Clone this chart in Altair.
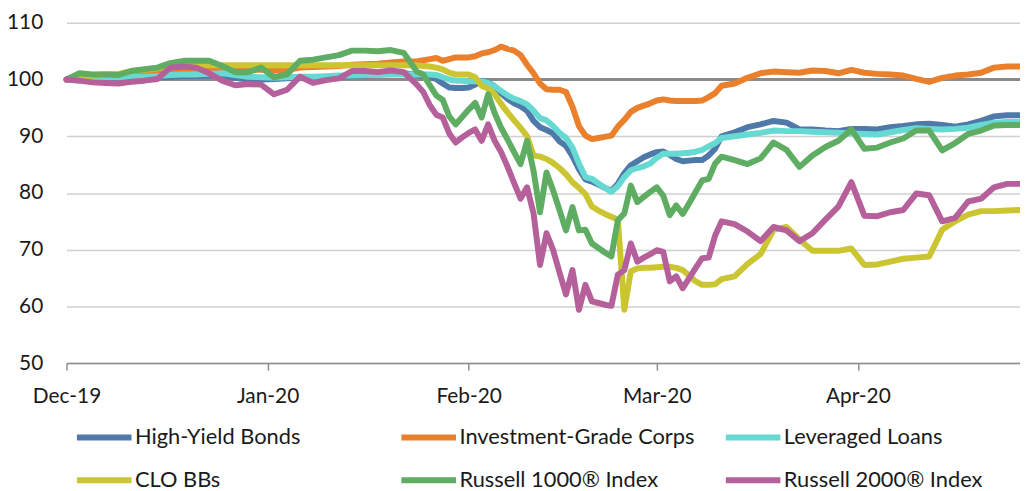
import altair as alt
import pandas as pd

# Day offsets from 1 Dec 2019 (x categories)
day_offsets = [0, 2, 4, 6, 8, 10, 12, 14, 16, 18, 20, 22, 24, 26, 28, 30, 32, 34, 36, 38,
               40, 42, 44, 46, 48, 50, 52, 54,
               55, 56, 57, 58, 59, 60, 61, 62, 63, 64, 65, 66, 67, 68, 69, 70, 71, 72, 73, 74,
               75, 76, 77, 78, 79, 80, 81, 82, 83, 84, 85, 86, 87, 88, 89, 90, 91, 92, 93, 94,
               95, 96, 97, 98, 99, 100,
               101, 103, 105, 107, 109, 111, 113, 115, 117, 119, 121, 123, 125, 127, 129, 131,
               133, 135, 137, 139, 141, 143, 145, 147]

hy = [100, 100.1, 100.2, 100.2, 100.3, 100.3, 100.4, 100.4, 100.5, 100.6, 100.6, 100.7, 100.7, 100.3,
      100.0, 100.0, 100.1, 100.2, 100.3, 100.3, 100.4, 100.5, 100.6, 100.7, 100.9, 101.1, 101.1, 100.8,
      100.6, 100.4, 100.1, 99.3, 98.6, 98.5, 98.5, 98.6, 99.1, 99.8,
      99.5, 98.8, 97.6, 96.6, 95.8, 95.3, 94.5, 92.7, 91.6, 91.1,
      90.5, 89.1, 88.3, 86.5, 84.2, 82.4, 82.0, 81.5, 80.9, 80.4,
      81.6, 83.5, 84.9, 85.6, 86.3, 86.8, 87.2, 87.3, 86.7, 86.0,
      85.6, 85.7, 85.8, 85.8, 86.6, 87.8,
      90.0, 90.7, 91.6, 92.1, 92.7, 92.4, 91.2, 91.2, 91.0, 90.9, 91.3, 91.3,
      91.2, 91.6, 91.8, 92.1, 92.2, 92.0, 91.7, 92.1, 92.7, 93.5, 93.7, 93.7]

ig = [100, 100.6, 100.8, 100.9, 100.9, 101.0, 101.2, 101.3, 101.5, 101.6, 101.7, 101.8, 101.8, 101.7,
      101.7, 101.7, 101.6, 101.7, 102.1, 102.2, 102.3, 102.4, 102.6, 102.7, 102.8, 103.0, 103.2, 103.2,
      103.4, 103.6, 103.8, 103.3, 103.6, 103.9, 103.9, 103.9, 104.1, 104.6,
      104.8, 105.2, 105.8, 105.4, 105.1, 104.3, 102.6, 101.1, 99.3, 98.3,
      98.2, 98.2, 97.8, 95.2, 91.8, 90.1, 89.5, 89.7, 89.9, 90.1,
      91.7, 92.9, 94.3, 95.0, 95.4, 95.8, 96.3, 96.5, 96.3, 96.2,
      96.2, 96.2, 96.2, 96.3, 96.9, 97.6,
      98.9, 99.3, 100.3, 101.1, 101.4, 101.3, 101.2, 101.6, 101.5, 101.1, 101.7, 101.2,
      101.0, 100.9, 100.7, 100.1, 99.6, 100.3, 100.7, 100.9, 101.2, 102.1, 102.3, 102.3]

ll = [100, 100.2, 100.3, 100.4, 100.4, 100.5, 100.5, 100.6, 100.8, 100.9, 100.9, 101.0, 101.1, 100.8,
      100.5, 100.4, 100.3, 100.4, 100.5, 100.5, 100.6, 100.7, 100.7, 100.8, 100.8, 100.9, 100.9, 100.9,
      100.9, 100.9, 100.8, 100.4, 100.0, 99.8, 99.8, 99.7, 99.7, 99.7,
      99.4, 98.8, 98.0, 97.2, 96.6, 96.2, 95.6, 94.5, 93.2, 92.8,
      91.8, 90.6, 89.7, 88.0, 85.2, 82.8, 82.5, 81.7, 80.9, 80.2,
      81.2, 82.8, 84.0, 84.4, 84.7, 85.2, 86.2, 86.9, 86.9, 86.9,
      87.0, 87.1, 87.3, 87.6, 88.2, 88.8,
      89.7, 90.0, 90.3, 90.6, 91.0, 90.9, 90.9, 90.8, 90.7, 90.6, 90.5, 90.4,
      90.3, 90.7, 91.1, 91.4, 91.3, 91.2, 91.3, 91.5, 92.0, 92.4, 92.5, 92.5]

clo = [100, 100.5, 100.7, 100.8, 101.0, 101.5, 101.7, 102.0, 102.3, 102.4, 102.5, 102.5, 102.5, 102.5,
       102.5, 102.5, 102.5, 102.5, 102.5, 102.5, 102.5, 102.5, 102.5, 102.5, 102.5, 102.5, 102.5, 102.5,
       102.4, 102.3, 102.1, 101.8, 101.2, 100.9, 100.9, 100.9, 100.4, 98.9,
       98.4, 97.4, 95.7, 94.2, 92.8, 91.5, 90.0, 86.6, 86.4, 86.0,
       85.3, 84.4, 83.3, 81.9, 80.9, 79.8, 77.6, 76.9, 76.3, 75.8,
       75.3, 59.4, 66.2, 66.7, 66.8, 66.8, 66.9, 67.0, 67.0, 66.8,
       66.4, 65.4, 64.4, 63.8, 63.8, 63.9,
       64.8, 65.3, 67.5, 69.2, 73.5, 74.0, 71.8, 69.8, 69.8, 69.8, 70.2, 67.3,
       67.4, 67.9, 68.4, 68.6, 68.8, 73.5, 75.0, 76.2, 76.8, 76.8, 76.9, 77.0]

r1000 = [100, 101.1, 100.9, 100.9, 100.8, 101.5, 101.8, 102.1, 102.9, 103.3, 103.3, 103.3, 102.4, 101.3,
         101.3, 102.1, 100.4, 100.9, 103.3, 103.5, 103.9, 104.3, 105.1, 105.1, 105.0, 105.2, 104.7, 101.4,
         100.9, 99.0, 97.2, 96.4, 93.5, 92.1, 93.4, 94.7, 95.9, 93.3,
         97.4, 94.1, 91.5, 89.4, 87.2, 85.1, 89.2, 83.9, 76.6, 83.6,
         80.5, 77.0, 73.4, 77.5, 73.4, 73.5, 71.1, 70.3, 69.5, 68.8,
         75.2, 76.4, 81.3, 78.4, 79.3, 80.2, 81.0, 79.5, 76.1, 77.8,
         76.3, 78.2, 80.2, 82.2, 82.5, 85.2,
         86.4, 85.8, 85.1, 86.1, 88.9, 87.6, 84.6, 86.6, 88.1, 89.2, 91.2, 87.8,
         88.0, 88.9, 89.6, 91.0, 91.0, 87.5, 88.8, 90.4, 91.0, 91.9, 92.0, 92.0]

r2000 = [100, 99.8, 99.5, 99.4, 99.3, 99.6, 99.8, 100.1, 102.1, 102.3, 102.1, 101.1, 99.8, 99.0,
         99.2, 99.1, 97.4, 98.2, 100.5, 99.4, 99.9, 100.2, 101.5, 101.5, 101.3, 101.6, 101.3, 99.1,
         97.8, 95.5, 93.8, 93.3, 90.5, 88.9, 89.8, 90.6, 91.2, 89.2,
         92.1, 89.2, 87.2, 84.6, 81.8, 79.0, 81.0, 76.4, 67.3, 72.9,
         70.0, 66.0, 62.1, 66.4, 59.4, 63.8, 60.9, 60.6, 60.3, 60.1,
         65.6, 66.4, 71.1, 67.9, 68.6, 69.2, 69.9, 69.6, 64.4, 65.3,
         63.2, 65.0, 66.8, 68.5, 68.6, 72.5,
         75.0, 74.5, 73.2, 71.5, 74.0, 73.4, 71.5, 72.9, 75.3, 77.6, 81.9, 76.0,
         75.9, 76.6, 77.0, 79.9, 79.6, 75.0, 75.6, 78.5, 79.0, 81.0, 81.6, 81.6]

series_names = ["High-Yield Bonds", "Investment-Grade Corps", "Leveraged Loans",
                "CLO BBs", "Russell 1000\u00ae Index", "Russell 2000\u00ae Index"]
series_colors = ["#4f79a8", "#ea7f2c", "#66d9d3", "#cbc532", "#5fad63", "#b5609a"]
y_ticks = [50, 60, 70, 80, 90, 100, 110]
baseline = [100]

dates = (pd.Timestamp("2019-12-01") + pd.to_timedelta(day_offsets, unit="D")).strftime("%Y-%m-%d")
wide = pd.DataFrame({"date": dates, series_names[0]: hy, series_names[1]: ig,
                     series_names[2]: ll, series_names[3]: clo,
                     series_names[4]: r1000, series_names[5]: r2000})
long = wide.melt("date", var_name="series", value_name="value")

FONT = "Lato"
TXT = "#1a1a1a"

x_enc = alt.X(
    "date:T",
    scale=alt.Scale(type="utc", domain=[alt.DateTime(year=2019, month=12, date=1, utc=True),
                                        alt.DateTime(year=2020, month=4, date=26, utc=True)]),
    axis=alt.Axis(title=None, format="%b-%y",
                  tickCount=alt.TimeIntervalStep(interval="month", step=1),
                  grid=False, domainColor="#8c8c8c", domainWidth=1.5,
                  tickColor="#8c8c8c", tickWidth=1.5, tickSize=7, labelPadding=16,
                  labelFlush=False, labelAlign="center",
                  labelFont=FONT, labelFontSize=21, labelColor=TXT),
)
y_scale = alt.Scale(domain=[50, 110], nice=False, zero=False)
y_enc = alt.Y(
    "value:Q", scale=y_scale,
    axis=alt.Axis(title=None, values=y_ticks, grid=True, gridColor="#d0d0d0", gridWidth=1.5,
                  domain=False, ticks=False, labelPadding=24,
                  labelFont=FONT, labelFontSize=21, labelColor=TXT),
)

rule = alt.Chart(pd.DataFrame({"value": baseline})).mark_rule(
    color="#8a8a8a", strokeWidth=3
).encode(y=alt.Y("value:Q", scale=y_scale))

lines = alt.Chart(long).mark_line(strokeWidth=6, strokeJoin="round", strokeCap="round").encode(
    x=x_enc,
    y=y_enc,
    color=alt.Color(
        "series:N",
        scale=alt.Scale(domain=series_names, range=series_colors),
        legend=alt.Legend(title=None, orient="none", legendX=24, legendY=404, offset=0,
                          columns=3, direction="horizontal",
                          symbolType="M-2.5,0L2.5,0", symbolSize=484, symbolStrokeWidth=6,
                          labelFont=FONT, labelFontSize=22, labelColor=TXT, labelLimit=400,
                          labelOffset=17, columnPadding=18, rowPadding=17, gridAlign="all",
                          padding=0),
    ),
)

chart = alt.layer(rule, lines).properties(
    width=961, height=343,
    autosize=alt.AutoSizeParams(type="none"),
    padding={"left": 59, "top": 13, "right": 0, "bottom": 132},
).configure_view(stroke=None)

chart.save("out.html", embed_options={"renderer": "svg", "actions": False})
